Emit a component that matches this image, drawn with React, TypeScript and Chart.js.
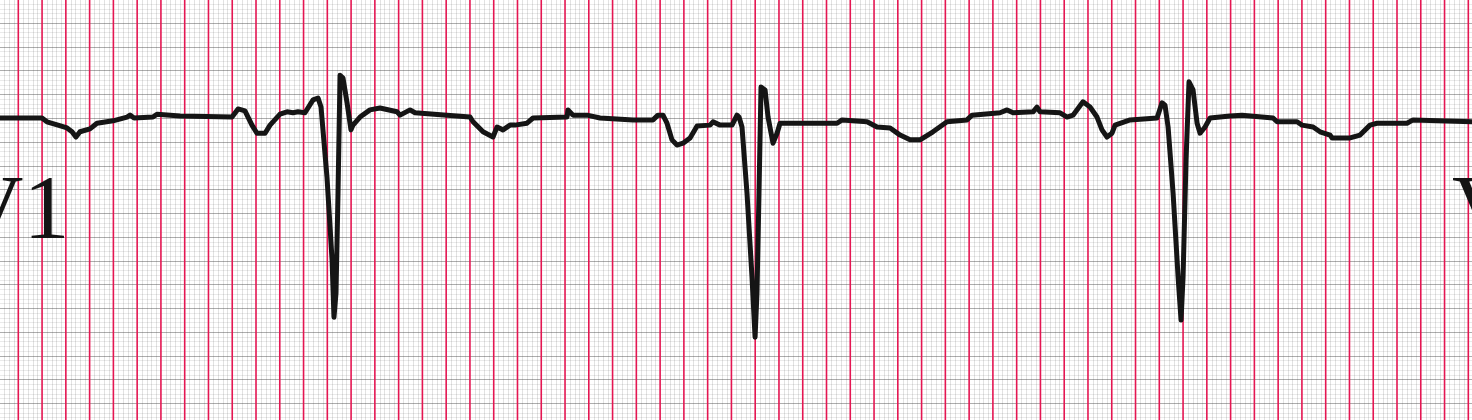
import React, { useEffect, useRef } from "react";
import { Chart, registerables } from "chart.js";

Chart.register(...registerables);

// Lead V1 rhythm strip: time in seconds, amplitude in mV
const traceTime = [
  -0.154, 0.199, 0.241, 0.334, 0.41, 0.452, 0.485, 0.519, 0.603, 0.662,
  0.797, 0.915, 0.94, 0.974, 1.133, 1.167, 1.361, 1.798, 1.849, 1.907,
  1.966, 2.008, 2.076, 2.118, 2.202, 2.261, 2.311, 2.353, 2.412, 2.48,
  2.522, 2.547, 2.597, 2.64, 2.656, 2.673, 2.69, 2.707, 2.732, 2.766,
  2.799, 2.816, 2.875, 2.959, 3.043, 3.186, 3.212, 3.296, 3.338, 3.607,
  3.801, 3.826, 3.91, 3.994, 4.028, 4.078, 4.137, 4.179, 4.28, 4.331,
  4.617, 4.625, 4.667, 4.785, 4.895, 5.172, 5.34, 5.382, 5.424, 5.458,
  5.5, 5.542, 5.593, 5.652, 5.711, 5.82, 5.845, 5.904, 6.005, 6.047,
  6.064, 6.089, 6.131, 6.173, 6.199, 6.215, 6.232, 6.249, 6.283, 6.308,
  6.35, 6.384, 6.409, 6.577, 6.889, 6.931, 7.141, 7.225, 7.335, 7.419,
  7.503, 7.587, 7.696, 7.814, 7.982, 8.025, 8.26, 8.319, 8.37, 8.538,
  8.571, 8.597, 8.765, 8.824, 8.874, 8.958, 9.017, 9.076, 9.118, 9.16,
  9.202, 9.228, 9.354, 9.581, 9.623, 9.648, 9.674, 9.716, 9.758, 9.783,
  9.8, 9.825, 9.85, 9.884, 9.918, 9.943, 9.985, 10.027, 10.195, 10.296,
  10.557, 10.591, 10.759, 10.801, 10.894, 10.952, 11.037, 11.054, 11.205, 11.289,
  11.373, 11.432, 11.684, 11.735, 12.231,
];

const traceMv = [
  0, 0, -0.08, -0.15, -0.21, -0.29, -0.4, -0.29, -0.23, -0.11,
  -0.06, 0.02, 0.06, 0, 0.02, 0.08, 0.04, 0.02, 0.19, 0.15,
  -0.15, -0.32, -0.32, -0.15, 0.08, 0.13, 0.11, 0.13, 0.11, 0.38,
  0.42, 0.23, -1.24, -2.99, -4.19, -3.68, -1.58, 0.9, 0.84, 0.32,
  -0.25, -0.15, 0.02, 0.17, 0.21, 0.13, 0.06, 0.17, 0.11, 0.06,
  0.02, -0.08, -0.29, -0.4, -0.19, -0.25, -0.15, -0.15, -0.11, 0,
  0.02, 0.17, 0.06, 0.06, 0, -0.04, -0.04, 0.06, 0.06, -0.11,
  -0.46, -0.57, -0.53, -0.42, -0.17, -0.15, -0.08, -0.15, -0.15, 0.06,
  0.02, -0.19, -1.58, -3.34, -4.61, -3.68, -1.58, 0.65, 0.59, 0.02,
  -0.53, -0.32, -0.11, -0.11, -0.11, -0.04, -0.08, -0.19, -0.21, -0.36,
  -0.46, -0.46, -0.29, -0.08, -0.04, 0.06, 0.11, 0.17, 0.11, 0.13,
  0.23, 0.13, 0.11, 0.02, 0.06, 0.34, 0.23, 0.02, -0.25, -0.4,
  -0.32, -0.15, -0.04, 0, 0.32, 0.27, -0.19, -1.58, -3.34, -4.25,
  -3.34, -0.88, 0.76, 0.59, -0.11, -0.32, -0.19, 0, 0.04, 0.06,
  0, -0.08, -0.08, -0.15, -0.19, -0.29, -0.36, -0.42, -0.42, -0.36,
  -0.15, -0.11, -0.11, -0.04, -0.08,
];

const leadLabel = "V1";
const nextLeadLabel = "V";

// visible window of the paper strip
const timeWindow = [-0.154, 12.231];
const mvWindow = [-6.353, 2.482];

// paper grid: small box 0.04 s / 0.1 mV, red marks every 0.2 s
const smallStepT = 0.04;
const smallStepMv = 0.1;

const paperGrid = {
  id: "paperGrid",
  beforeDraw(chart: any) {
    const { ctx, chartArea: a, scales } = chart;
    const x = scales.x;
    const y = scales.y;
    ctx.save();
    ctx.fillStyle = "#ffffff";
    ctx.fillRect(0, 0, chart.width, chart.height);

    // gray horizontal lines
    const k0 = Math.ceil(y.min / smallStepMv);
    const k1 = Math.floor(y.max / smallStepMv);
    for (let k = k0; k <= k1; k++) {
      const py = Math.round(y.getPixelForValue(k * smallStepMv)) + 0.5;
      ctx.beginPath();
      ctx.strokeStyle = k % 5 === 0 ? "rgba(40,40,40,0.38)" : "rgba(60,60,60,0.11)";
      ctx.lineWidth = 1;
      ctx.moveTo(a.left, py);
      ctx.lineTo(a.right, py);
      ctx.stroke();
    }
    // gray vertical lines
    const j0 = Math.ceil(x.min / smallStepT);
    const j1 = Math.floor(x.max / smallStepT);
    for (let j = j0; j <= j1; j++) {
      if (j % 5 === 0) continue;
      const px = Math.round(x.getPixelForValue(j * smallStepT)) + 0.5;
      ctx.beginPath();
      ctx.strokeStyle = "rgba(60,60,60,0.15)";
      ctx.lineWidth = 1;
      ctx.moveTo(px, a.top);
      ctx.lineTo(px, a.bottom);
      ctx.stroke();
    }
    // red vertical lines
    for (let j = j0; j <= j1; j++) {
      if (j % 5 !== 0) continue;
      const px = x.getPixelForValue(j * smallStepT);
      ctx.beginPath();
      ctx.strokeStyle = "rgb(228,22,82)";
      ctx.lineWidth = 1.6;
      ctx.moveTo(px, a.top);
      ctx.lineTo(px, a.bottom);
      ctx.stroke();
    }
    ctx.restore();
  },
};

const leadLabels = {
  id: "leadLabels",
  afterDatasetsDraw(chart: any) {
    const { ctx, chartArea: a } = chart;
    ctx.save();
    ctx.fillStyle = "#141414";
    ctx.font = "92px 'Liberation Serif', 'Times New Roman', serif";
    ctx.textBaseline = "alphabetic";
    ctx.textAlign = "left";
    ctx.fillText(leadLabel, a.left - 43, a.top + 238);
    ctx.fillText(nextLeadLabel, a.right - 20, a.top + 238);
    ctx.restore();
  },
};

export default function App() {
  const canvasRef = useRef<HTMLCanvasElement | null>(null);

  useEffect(() => {
    document.body.style.margin = "0";
    document.body.style.overflow = "hidden";
    const canvas = canvasRef.current;
    if (!canvas) return;
    const chart = new Chart(canvas, {
      type: "line",
      data: {
        datasets: [
          {
            label: leadLabel,
            data: traceTime.map((t, i) => ({ x: t, y: traceMv[i] })),
            borderColor: "#151515",
            borderWidth: 5,
            pointRadius: 0,
            tension: 0,
            borderJoinStyle: "round",
            borderCapStyle: "round",
            fill: false,
          },
        ],
      },
      options: {
        animation: false,
        responsive: false,
        devicePixelRatio: 1,
        layout: { padding: 0 },
        events: [],
        scales: {
          x: { type: "linear", min: timeWindow[0], max: timeWindow[1], display: false },
          y: { type: "linear", min: mvWindow[0], max: mvWindow[1], display: false },
        },
        plugins: {
          legend: { display: false },
          tooltip: { enabled: false },
        },
      },
      plugins: [paperGrid, leadLabels],
    } as any);
    return () => chart.destroy();
  }, []);

  return (
    <div style={{ width: 1472, height: 420 }}>
      <canvas ref={canvasRef} width={1472} height={420} style={{ display: "block" }} />
    </div>
  );
}
